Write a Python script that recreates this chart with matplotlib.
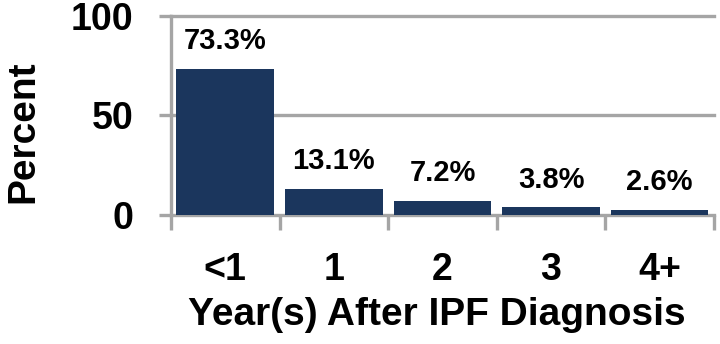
import numpy as np
import matplotlib
matplotlib.use('Agg')
import matplotlib.pyplot as plt

categories = ['<1', '1', '2', '3', '4+']
percents = [73.3, 13.1, 7.2, 3.8, 2.6]
yticks = [0, 50, 100]

plt.rcParams['font.family'] = ['Liberation Sans', 'DejaVu Sans']
plt.rcParams['font.weight'] = 'bold'

grid_col = '#a5a5a5'
bar_col = '#1b365d'

fig = plt.figure(figsize=(7.2, 3.44), dpi=100)
ax = fig.add_axes([0.2375, 0.375, 0.754, 0.5785])

x = np.arange(len(categories))
bars = ax.bar(x, percents, width=0.9, color=bar_col, zorder=3)

for xi, v in zip(x, percents):
    ax.annotate('%.1f%%' % v, (xi, v), xytext=(0, 10), textcoords='offset points',
                ha='center', va='bottom', fontsize=21, fontweight='bold')

ax.set_xlim(-0.5, len(categories) - 0.5)
ax.set_ylim(0, 100)
ax.set_yticks(yticks)
ax.set_yticklabels([str(t) for t in yticks], fontsize=27, fontweight='bold')
for t in yticks:
    ax.axhline(t, color=grid_col, lw=2.4, zorder=1, clip_on=False)

ax.set_xticks(x)
ax.set_xticklabels(categories, fontsize=27, fontweight='bold')
ax.set_xticks(np.arange(len(categories) + 1) - 0.5, minor=True)
ax.tick_params(axis='x', which='major', length=0, pad=27)
ax.tick_params(axis='x', which='minor', length=11, width=2.4, color=grid_col)
ax.tick_params(axis='y', length=9, width=2.4, color=grid_col, pad=18)

for s in ['top', 'right', 'bottom']:
    ax.spines[s].set_visible(False)
ax.spines['left'].set_color(grid_col)
ax.spines['left'].set_linewidth(2.4)

ax.set_ylabel('Percent', fontsize=28, fontweight='bold')
ax.yaxis.set_label_coords(-0.238, 0.42)
ax.set_xlabel('Year(s) After IPF Diagnosis', fontsize=28, fontweight='bold')
ax.xaxis.set_label_coords(0.49, -0.41)

fig.savefig('out.png', dpi=100)
